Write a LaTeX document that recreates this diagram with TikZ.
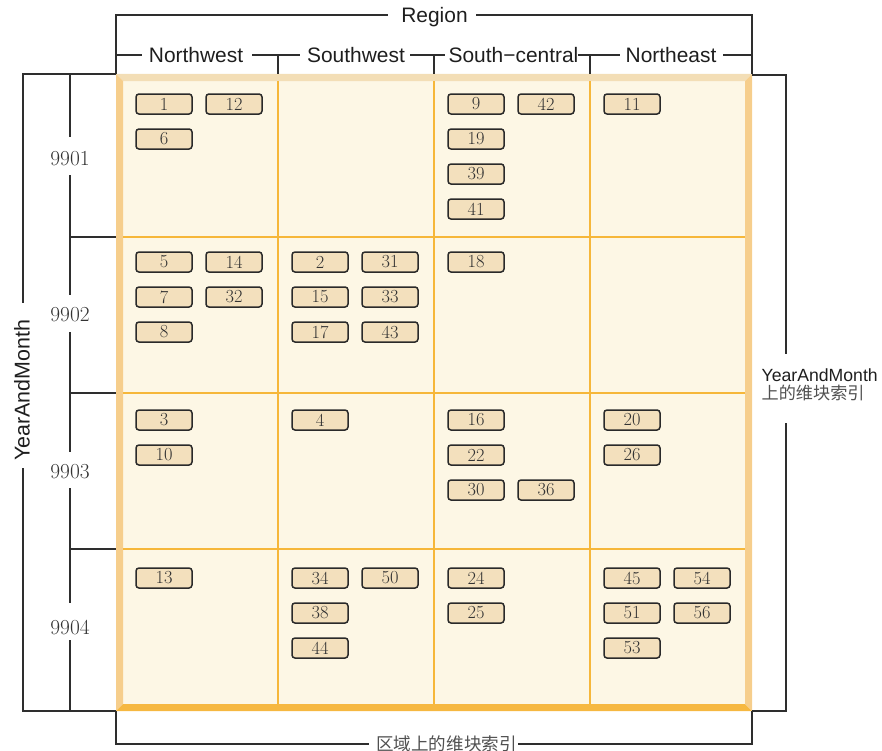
\documentclass[tikz,border=0pt]{standalone}
\usepackage{fontspec}
\setsansfont{Liberation Sans}
\newfontfamily\cjk{Noto Sans CJK SC}
\definecolor{linec}{HTML}{2E2E2E}
\definecolor{txtc}{HTML}{1E1E1E}
\definecolor{numc}{HTML}{333333}
\definecolor{cjkc}{HTML}{505050}
\definecolor{cellbg}{HTML}{FDF7E5}
\definecolor{bevtop}{HTML}{F3DEB6}
\definecolor{bevside}{HTML}{F6CE8C}
\definecolor{bevbot}{HTML}{F6B841}
\definecolor{gridc}{HTML}{F6B73A}
\definecolor{blkfill}{HTML}{F3E0BD}
\definecolor{blkline}{HTML}{2A2A2A}
\tikzset{
  ln/.style={draw=linec, line width=1.4bp, line join=miter},
  blk/.style={draw=blkline, line width=1.5bp, fill=blkfill, rounded corners=3bp,
    minimum width=56bp, minimum height=20bp, inner sep=0pt,
    font=\fontsize{18.5}{19}\selectfont, text=numc},
  hdr/.style={font=\sffamily\fontsize{21}{24}\selectfont, text=txtc, inner sep=0pt, anchor=base},
  rowlab/.style={font=\fontsize{21.5}{24}\selectfont, text=numc, inner sep=0pt},
  gridln/.style={draw=gridc, line width=2.2bp},
}
\begin{document}
\begin{tikzpicture}[x=1bp,y=-1bp]
\useasboundingbox (0,0) rectangle (882,751);
% frame
\fill[cellbg] (123,81) rectangle (745,704);
\fill[bevtop] (116,74) -- (752,74) -- (745,81) -- (123,81) -- cycle;
\fill[bevside] (116,74) -- (123,81) -- (123,704) -- (116,711) -- cycle;
\fill[bevbot] (116,711) -- (123,704) -- (745,704) -- (752,711) -- cycle;
\fill[bevside] (752,74) -- (745,81) -- (745,704) -- (752,711) -- cycle;
% grid
\foreach \gx in {278,434,590} \draw[gridln] (\gx,81) -- (\gx,704);
\foreach \gy in {237,393,549} \draw[gridln] (123,\gy) -- (745,\gy);
% blocks
\foreach \t/\c/\r/\s/\k in {
  1/1/1/0/0, 12/1/1/1/0, 6/1/1/0/1, 9/3/1/0/0, 42/3/1/1/0, 19/3/1/0/1, 39/3/1/0/2, 41/3/1/0/3, 11/4/1/0/0,
  5/1/2/0/0, 14/1/2/1/0, 7/1/2/0/1, 32/1/2/1/1, 8/1/2/0/2, 2/2/2/0/0, 31/2/2/1/0, 15/2/2/0/1, 33/2/2/1/1, 17/2/2/0/2, 43/2/2/1/2, 18/3/2/0/0,
  3/1/3/0/0, 10/1/3/0/1, 4/2/3/0/0, 16/3/3/0/0, 22/3/3/0/1, 30/3/3/0/2, 36/3/3/1/2, 20/4/3/0/0, 26/4/3/0/1,
  13/1/4/0/0, 34/2/4/0/0, 50/2/4/1/0, 38/2/4/0/1, 44/2/4/0/2, 24/3/4/0/0, 25/3/4/0/1, 45/4/4/0/0, 54/4/4/1/0, 51/4/4/0/1, 56/4/4/1/1, 53/4/4/0/2}
  \node[blk] (b\t) at ({164+156*(\c-1)+70*\s},{104+158*(\r-1)+35*\k}) {\t};
% top headers
\node[hdr] (region) at (434.5,22.5) {Region};
\node[hdr] (nw) at (196,62.5) {Northwest};
\node[hdr] (sw) at (356,62.5) {Southwest};
\node[hdr] (sc) at (513.5,62.5) {South−central};
\node[hdr] (ne) at (671,62.5) {Northeast};
\draw[ln] (116,74) -- (116,15) -- (388,15);
\draw[ln] (476,15) -- (752,15) -- (752,74);
\draw[ln] (116,55) -- (142,55);
\draw[ln] (252,55) -- (300,55);
\draw[ln] (278,55) -- (278,74);
\draw[ln] (410,55) -- (445,55);
\draw[ln] (434,55) -- (434,74);
\draw[ln] (578,55) -- (620,55);
\draw[ln] (590,55) -- (590,74);
\draw[ln] (723,55) -- (752,55);
% left labels
\node[hdr, rotate=90, font=\sffamily\fontsize{21.5}{24}\selectfont] (ym) at (29.5,390.5) {YearAndMonth};
\node[rowlab] (r1) at (70,159) {9901};
\node[rowlab] (r2) at (70,315) {9902};
\node[rowlab] (r3) at (70,472) {9903};
\node[rowlab] (r4) at (70,627) {9904};
\draw[ln] (116,74) -- (23,74) -- (23,303);
\draw[ln] (23,468) -- (23,711) -- (116,711);
\draw[ln] (70,74) -- (70,137);
\draw[ln] (70,175) -- (70,295);
\draw[ln] (70,237) -- (116,237);
\draw[ln] (70,332) -- (70,452);
\draw[ln] (70,393) -- (116,393);
\draw[ln] (70,488) -- (70,603);
\draw[ln] (70,549) -- (116,549);
\draw[ln] (70,640) -- (70,711);
% right label
\node[anchor=base west, inner sep=0pt, font=\sffamily\fontsize{17.7}{20}\selectfont, text=txtc] (rl1) at (761.5,381) {YearAndMonth};
\node[anchor=base west, inner sep=0pt, font=\cjk\fontsize{17.2}{20}\selectfont, text=cjkc] (rl2) at (761.5,399.5) {上的维块索引};
\draw[ln] (752,75) -- (786,75) -- (786,354);
\draw[ln] (786,423) -- (786,711) -- (752,711);
% bottom label
\node[anchor=base, inner sep=0pt, font=\cjk\fontsize{17.6}{20}\selectfont, text=cjkc] (bl) at (446.5,750.5) {区域上的维块索引};
\draw[ln] (116,711) -- (116,744) -- (369,744);
\draw[ln] (518,744) -- (752,744) -- (752,711);
\end{tikzpicture}
\end{document}
